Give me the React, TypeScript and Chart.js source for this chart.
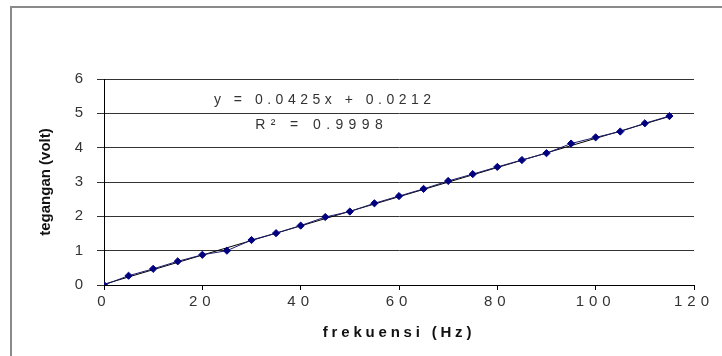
import React, { useEffect, useRef } from "react";
import { Chart, registerables } from "chart.js";

Chart.register(...registerables);

// ---- data ----
const frekuensi = [0, 5, 10, 15, 20, 25, 30, 35, 40, 45, 50, 55, 60, 65, 70, 75, 80, 85, 90, 95, 100, 105, 110, 115];
const tegangan = [0, 0.27, 0.47, 0.69, 0.88, 1.0, 1.31, 1.51, 1.73, 1.98, 2.14, 2.38, 2.59, 2.8, 3.03, 3.23, 3.44, 3.64, 3.84, 4.12, 4.3, 4.47, 4.71, 4.92];
const trendSlope = 0.0425;
const trendIntercept = 0.0212;
const rSquared = 0.9998;
const xTitle = "frekuensi (Hz)";
const yTitle = "tegangan (volt)";

const FONT = '"Liberation Sans", Arial, sans-serif';

const spacingPlugin = {
  id: "spacingPatch",
  afterUpdate(chart: any) {
    const cfg: Record<string, { labels: number; title: number }> = {
      x: { labels: 5, title: 3.8 },
      y: { labels: 0, title: 0 },
    };
    Object.keys(chart.scales).forEach((id) => {
      const s: any = chart.scales[id];
      if (s.__patched) return;
      s.__patched = true;
      const c = cfg[id] || { labels: 0, title: 0 };
      const wrap = (name: string, sp: number) => {
        const orig = s[name];
        s[name] = function (...args: any[]) {
          const ctx: any = chart.ctx;
          const prev = ctx.letterSpacing;
          ctx.letterSpacing = sp + "px";
          orig.apply(this, args);
          ctx.letterSpacing = prev;
        };
      };
      wrap("drawLabels", c.labels);
      wrap("drawTitle", c.title);
    });
  },
};

const equationPlugin = {
  id: "equation",
  afterDraw(chart: any) {
    const ctx: any = chart.ctx;
    ctx.save();
    ctx.font = "14px " + FONT;
    ctx.fillStyle = "#333333";
    ctx.textAlign = "center";
    ctx.textBaseline = "middle";
    const sign = trendIntercept >= 0 ? "+" : "-";
    const line1 = `y = ${trendSlope.toFixed(4)}x ${sign} ${Math.abs(trendIntercept).toFixed(4)}`;
    const line2 = `R\u00B2 = ${rSquared.toFixed(4)}`;
    ctx.letterSpacing = "4.5px";
    ctx.fillText(line1, 322.5 + 2.25, 100);
    ctx.letterSpacing = "5.4px";
    ctx.fillText(line2, 319 + 2.7, 125);
    ctx.restore();
  },
};

export default function App() {
  const ref = useRef<HTMLCanvasElement | null>(null);

  useEffect(() => {
    if (!ref.current) return;
    const points = frekuensi.map((x, i) => ({ x, y: tegangan[i] }));
    const xFirst = frekuensi[0];
    const xLast = frekuensi[frekuensi.length - 1];
    const trend = [
      { x: xFirst, y: trendSlope * xFirst + trendIntercept },
      { x: xLast, y: trendSlope * xLast + trendIntercept },
    ];
    const chart = new Chart(ref.current, {
      type: "scatter",
      data: {
        datasets: [
          {
            label: "data",
            data: points,
            showLine: true,
            borderColor: "#1c1c6a",
            borderWidth: 1,
            backgroundColor: "#000080",
            pointBackgroundColor: "#000080",
            pointBorderColor: "#000080",
            pointBorderWidth: 1,
            pointStyle: "rectRot",
            pointRadius: 3.6,
          },
          {
            label: "trend",
            data: trend,
            showLine: true,
            borderColor: "#000000",
            borderWidth: 1,
            pointRadius: 0,
          },
        ],
      },
      options: {
        animation: false,
        responsive: false,
        devicePixelRatio: 1,
        layout: { padding: { left: 0, top: 79, right: 28, bottom: 0 } },
        plugins: {
          legend: { display: false },
          tooltip: { enabled: false },
          title: { display: false },
        },
        scales: {
          x: {
            type: "linear",
            min: 0,
            max: 120,
            afterFit: (s: any) => {
              s.height = 71;
            },
            ticks: {
              stepSize: 20,
              maxRotation: 0,
              autoSkip: false,
              padding: 3,
              color: "#333333",
              font: { family: FONT, size: 15 },
            },
            grid: {
              display: true,
              drawOnChartArea: false,
              drawTicks: true,
              tickLength: 5,
              color: "#000000",
            },
            border: { display: true, color: "#000000", width: 1 },
            title: {
              display: true,
              text: xTitle,
              color: "#111111",
              font: { family: FONT, size: 15, weight: "bold" },
              padding: { top: 0, bottom: 14 },
            },
          },
          y: {
            type: "linear",
            min: 0,
            max: 6,
            afterFit: (s: any) => {
              s.width = 104;
            },
            ticks: {
              stepSize: 1,
              padding: 14,
              color: "#333333",
              font: { family: FONT, size: 15 },
            },
            grid: {
              display: true,
              drawTicks: true,
              tickLength: 7,
              color: "#333333",
              lineWidth: 1,
            },
            border: { display: true, color: "#000000", width: 1 },
            title: {
              display: true,
              text: yTitle,
              color: "#111111",
              font: { family: FONT, size: 15, weight: "bold" },
              padding: { top: 37, bottom: 0 },
            },
          },
        },
      },
      plugins: [spacingPlugin, equationPlugin],
    } as any);
    return () => chart.destroy();
  }, []);

  return (
    <div
      style={{
        position: "fixed",
        left: 0,
        top: 0,
        width: 722,
        height: 356,
        overflow: "hidden",
        background: "#ffffff",
      }}
    >
      <div
        style={{
          position: "absolute",
          left: 10,
          top: 6,
          width: 800,
          height: 400,
          borderTop: "2px solid #8a8a8a",
          borderLeft: "2px solid #8a8a8a",
          boxSizing: "border-box",
        }}
      />
      <canvas
        ref={ref}
        width={722}
        height={356}
        style={{ position: "absolute", left: 0, top: 0, width: 722, height: 356 }}
      />
    </div>
  );
}
